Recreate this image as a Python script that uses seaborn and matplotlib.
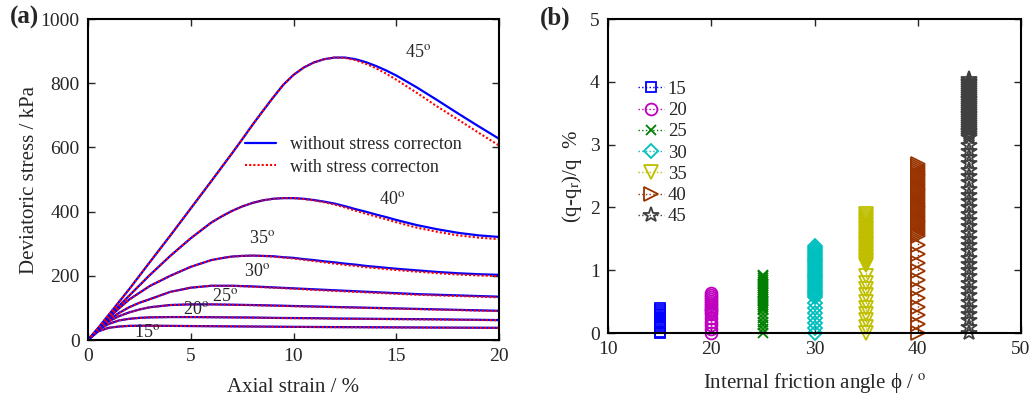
# stress-strain curves and correction error

import seaborn as sns
import matplotlib.pyplot as plt

sns.set_style('ticks')
plt.rcParams['font.family'] = ['Liberation Serif', 'DejaVu Serif']
plt.rcParams['mathtext.fontset'] = 'stix'
plt.rcParams['font.size'] = 14

# panel (a): deviatoric stress (kPa) against axial strain (%)
strain = [0, 0.5, 1, 1.5, 2, 2.5, 3, 4, 5, 6, 7, 8, 9, 10, 11, 12, 13, 14, 15, 16, 17, 18, 19, 20]
strain_hi = [0, 0.5, 1, 1.5, 2, 3, 4, 5, 6, 6.5, 7, 7.5, 8, 8.5, 9, 9.5, 10, 10.5, 11, 11.5, 12, 12.5,
             13, 13.5, 14, 14.5, 15, 16, 17, 18, 19, 20]

q15 = [0, 27, 38, 42, 44, 44.5, 44.5, 44, 43.5, 43, 42.5, 42, 41.5, 41, 40.7, 40.3, 40, 39.7, 39.4, 39.1, 38.8, 38.5, 38.2, 38]
q15r = [0, 27, 38, 42, 44, 44.5, 44.5, 44, 43.5, 43, 42.5, 42, 41.3, 40.8, 40.4, 40, 39.7, 39.4, 39.1, 38.8, 38.5, 38.2, 37.9, 37.6]
q20 = [0, 31, 50, 61, 66, 69, 70.5, 71.5, 71.5, 71, 70.5, 70, 69, 68.5, 68, 67, 66.5, 66, 65.5, 65, 64.5, 63.5, 63, 62]
q20r = [0, 31, 50, 61, 66, 69, 70.5, 71.5, 71.5, 71, 70.3, 69.6, 68.7, 68, 67.4, 66.5, 66, 65.4, 64.8, 64.3, 63.7, 63, 62.3, 61.5]
q25 = [0, 33, 58, 74, 86, 95, 102, 109, 111, 111, 110, 109, 107.5, 106, 104.5, 103, 101.5, 100, 98.5, 97, 95.5, 94, 92.5, 91]
q25r = [0, 33, 58, 74, 86, 95, 102, 109, 111, 111, 109.7, 108.5, 107, 105.3, 103.8, 102.2, 100.7, 99.2, 97.6, 96.1, 94.6, 93.1, 91.6, 90.2]
q30 = [0, 34, 62, 84, 102, 116, 127, 150, 163, 169, 169, 167, 164, 161, 158, 155, 152, 149, 146, 143, 141, 139, 137, 135]
q30r = [0, 34, 62, 84, 102, 116, 127, 150, 163, 169, 169, 166, 163, 160, 156, 153, 150, 147, 144, 141, 139, 137, 135, 133]

q35 = [0, 35, 68, 98, 126, 168, 200, 228, 249, 255, 260, 262, 263, 262, 261, 258, 256, 252, 249, 245, 242, 238,
       235, 231, 228, 225, 222, 217, 212, 208, 205, 203]
q35r = [0, 35, 68, 98, 126, 168, 200, 228, 249, 255, 260, 262, 263, 262, 260, 257, 254, 250, 246, 242, 238, 234,
        231, 227, 224, 221, 218, 213, 208, 204, 201, 199]
q40 = [0, 36, 72, 106, 138, 202, 262, 317, 366, 385, 402, 416, 427, 435, 440, 442, 442, 440, 436, 431, 425, 417,
       408, 400, 391, 383, 374, 358, 345, 334, 326, 321]
q40r = [0, 36, 72, 106, 138, 202, 262, 317, 366, 385, 402, 416, 427, 435, 440, 442, 442, 439, 435, 429, 422, 413,
        403, 394, 385, 376, 367, 350, 337, 326, 319, 314]
q45 = [0, 38, 78, 118, 158, 242, 325, 410, 495, 538, 581, 625, 670, 713, 755, 795, 826, 849, 865, 875, 880, 880,
       875, 866, 854, 840, 824, 787, 747, 706, 666, 627]
q45r = [0, 38, 78, 118, 158, 242, 325, 410, 495, 538, 581, 625, 670, 713, 755, 795, 826, 849, 865, 875, 880, 879,
        872, 861, 847, 830, 811, 770, 727, 687, 646, 606]

angles = [15, 20, 25, 30, 35, 40, 45]
q_plain = [q15, q20, q25, q30, q35, q40, q45]
q_corr = [q15r, q20r, q25r, q30r, q35r, q40r, q45r]
grids = [strain, strain, strain, strain, strain_hi, strain_hi, strain_hi]
label_x = [2.9, 5.25, 6.65, 8.25, 8.45, 14.8, 16.05]
label_y = [22, 94, 137, 212, 315, 437, 895]

# panel (b): (q - q_r)/q in % for each friction angle
dev15 = [0.0, 0.02] + [0.10, 0.13, 0.16, 0.19, 0.22, 0.25, 0.28, 0.31, 0.34, 0.37, 0.40]
dev20 = [0.0, 0.06, 0.12, 0.18, 0.24] + [0.30, 0.33, 0.36, 0.39, 0.42, 0.45, 0.48, 0.51, 0.54, 0.57, 0.60, 0.63]
dev25 = [0.0, 0.06, 0.12, 0.18, 0.24, 0.30] + [0.36, 0.39, 0.42, 0.45, 0.48, 0.51, 0.54, 0.57, 0.60, 0.63,
                                                0.66, 0.69, 0.72, 0.75, 0.78, 0.81, 0.84, 0.87, 0.90, 0.93]
dev30 = [0.0, 0.08, 0.16, 0.24, 0.32, 0.40, 0.48] + [0.57, 0.60, 0.63, 0.66, 0.69, 0.72, 0.75, 0.78, 0.81, 0.84,
                                                      0.87, 0.90, 0.93, 0.96, 0.99, 1.02, 1.05, 1.08, 1.11, 1.14,
                                                      1.17, 1.20, 1.23, 1.26, 1.29, 1.32, 1.35, 1.38]
dev35 = [0.0, 0.1, 0.2, 0.3, 0.4, 0.5, 0.6, 0.7, 0.8, 0.9] + [1.08, 1.11, 1.14, 1.17, 1.20, 1.23, 1.26, 1.29, 1.32,
                                                               1.35, 1.38, 1.41, 1.44, 1.47, 1.50, 1.53, 1.56, 1.59,
                                                               1.62, 1.65, 1.68, 1.71, 1.74, 1.77, 1.80, 1.83, 1.86, 1.89]
dev40 = [0.0, 0.14, 0.28, 0.42, 0.56, 0.70, 0.84, 0.98, 1.12, 1.26, 1.40] + [
    1.55, 1.58, 1.61, 1.64, 1.67, 1.70, 1.73, 1.76, 1.79, 1.82, 1.85, 1.88, 1.91, 1.94, 1.97, 2.00, 2.03, 2.06,
    2.09, 2.12, 2.15, 2.18, 2.21, 2.24, 2.27, 2.30, 2.33, 2.36, 2.39, 2.42, 2.45, 2.48, 2.51, 2.54, 2.57, 2.60,
    2.63, 2.66, 2.69]
dev45 = [0.0, 0.1, 0.2, 0.3, 0.4, 0.5, 0.6, 0.7, 0.8, 0.9, 1.0, 1.1, 1.2, 1.3, 1.4, 1.5, 1.6, 1.7, 1.8, 1.9, 2.0,
         2.1, 2.2, 2.3, 2.4, 2.5, 2.6, 2.7, 2.8, 2.9, 3.0] + [
    3.12, 3.15, 3.18, 3.21, 3.24, 3.27, 3.30, 3.33, 3.36, 3.39, 3.42, 3.45, 3.48, 3.51, 3.54, 3.57, 3.60, 3.63,
    3.66, 3.69, 3.72, 3.75, 3.78, 3.81, 3.84, 3.87, 3.90, 3.93, 3.96, 3.99, 4.02, 4.05]

devs = [dev15, dev20, dev25, dev30, dev35, dev40, dev45]
markers = ['s', 'o', 'x', 'D', 'v', '>', '*']
msizes = [7, 8.5, 7, 7.5, 10, 10, 11.5]
colors = ['#0000FF', '#BF00BF', '#007F00', '#00BFBF', '#BFBF00', '#993300', '#404040']

fig = plt.figure(figsize=(10.33, 3.98), dpi=100)
ax1 = fig.add_axes([0.0852, 0.1457, 0.3979, 0.8065])
ax2 = fig.add_axes([0.5886, 0.1633, 0.3998, 0.7889])

for i in range(len(angles)):
    sns.lineplot(x=grids[i], y=q_plain[i], ax=ax1, color='#0000FF', lw=1.6, estimator=None, sort=False,
                 label='without stress correcton' if i == 0 else None)
    sns.lineplot(x=grids[i], y=q_corr[i], ax=ax1, color='#FF0000', lw=1.5, ls=(0, (1, 1)), estimator=None,
                 sort=False, label='with stress correcton' if i == 0 else None)
    ax1.text(label_x[i], label_y[i], '%d$^{\\rm o}$' % angles[i], ha='center', va='center', fontsize=13)

ax1.set_xlim(0, 20)
ax1.set_ylim(0, 1000)
ax1.set_xticks([0, 5, 10, 15, 20])
ax1.set_yticks([0, 200, 400, 600, 800, 1000])
ax1.set_xlabel('Axial strain / %', fontsize=15, labelpad=9)
ax1.set_ylabel('Deviatoric stress / kPa', fontsize=15, labelpad=1)
ax1.legend(loc='upper left', bbox_to_anchor=(0.343, 0.685), frameon=False, handlelength=1.7,
           handletextpad=0.8, labelspacing=0.3, fontsize=13)

for i in range(len(angles)):
    sns.lineplot(x=[angles[i]] * len(devs[i]), y=devs[i], ax=ax2, color=colors[i], estimator=None, sort=False,
                 marker=markers[i], ms=msizes[i], mfc='none', mec=colors[i], mew=1.3, lw=1, ls=':',
                 label=str(angles[i]), clip_on=False)

ax2.set_xlim(10, 50)
ax2.set_ylim(0, 5)
ax2.set_xticks([10, 20, 30, 40, 50])
ax2.set_yticks([0, 1, 2, 3, 4, 5])
ax2.set_xlabel('Internal friction angle \u03d5 / $^{\\rm o}$', fontsize=15, labelpad=9)
ax2.set_ylabel('(q-q$_{\\rm r}$)/q  %', fontsize=15)
ax2.legend(loc='upper left', bbox_to_anchor=(0.04, 0.845), frameon=False, handlelength=1.4,
           handletextpad=0.2, labelspacing=0.22, fontsize=13.5, borderpad=0.2)

for ax in [ax1, ax2]:
    ax.tick_params(direction='in', top=True, right=True, length=5, width=1, labelsize=14, pad=6)
    for s in ax.spines.values():
        s.set_linewidth(1.5)
        s.set_color('black')
        s.set_visible(True)
        s.set_zorder(5)

fig.text(0.01, 0.955, '(a)', fontsize=18, fontweight='bold', va='center')
fig.text(0.523, 0.955, '(b)', fontsize=18, fontweight='bold', va='center')

fig.savefig('out.png', dpi=100)
